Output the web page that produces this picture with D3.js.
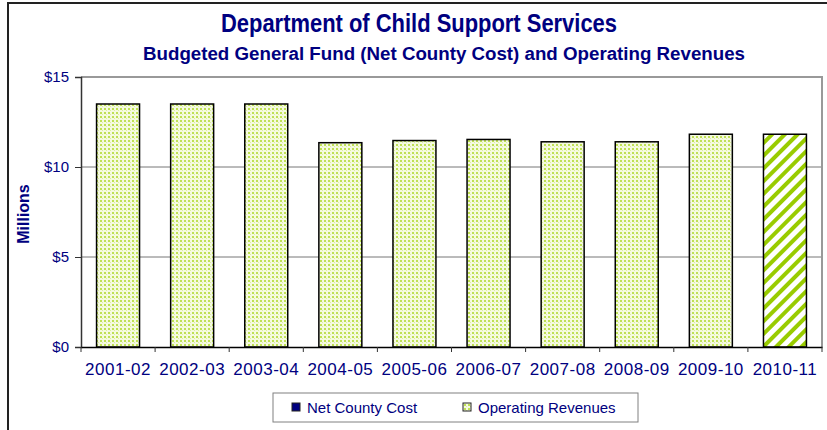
<!DOCTYPE html>
<html>
<head>
<meta charset="utf-8">
<script src="https://cdn.jsdelivr.net/npm/d3@7"></script>
<style>
  body { margin: 0; background: #fff; }
  text { font-family: "Liberation Sans", Arial, sans-serif; }
</style>
</head>
<body>
<svg id="chart" width="827" height="430"></svg>
<script>
// data (millions of dollars)
var years = ["2001-02","2002-03","2003-04","2004-05","2005-06","2006-07","2007-08","2008-09","2009-10","2010-11"];
var netCountyCost = [0, 0, 0, 0, 0, 0, 0, 0, 0, 0];
var operatingRevenues = [13.5, 13.5, 13.5, 11.35, 11.47, 11.53, 11.4, 11.4, 11.82, 11.82];
var yTicks = [0, 5, 10, 15];
var seriesNames = ["Net County Cost", "Operating Revenues"];
var budgetYear = "2010-11";

var navy = "#000080";
var svg = d3.select("#chart");

// patterns
var defs = svg.append("defs");
var dots = defs.append("pattern").attr("id", "dots")
  .attr("patternUnits", "userSpaceOnUse").attr("width", 4).attr("height", 4);
dots.append("rect").attr("width", 4).attr("height", 4).attr("fill", "#f5fae0");
dots.append("rect").attr("x", 0).attr("y", 0).attr("width", 2).attr("height", 2).attr("fill", "#bfe055");
dots.append("rect").attr("x", 2).attr("y", 2).attr("width", 1).attr("height", 1).attr("fill", "#dcefa0");

var stripes = defs.append("pattern").attr("id", "stripes")
  .attr("patternUnits", "userSpaceOnUse").attr("width", 9).attr("height", 9)
  .attr("patternTransform", "rotate(45)");
stripes.append("rect").attr("width", 9).attr("height", 9).attr("fill", "#fff");
stripes.append("rect").attr("width", 4).attr("height", 9).attr("fill", "#99cc00");

// outer frame (left and top visible)
svg.append("path").attr("d", "M8,440V3H827").attr("fill", "none")
  .attr("stroke", "#222").attr("stroke-width", 2);

var plotLeft = 81, plotRight = 822, plotTop = 77, plotBottom = 347;

var x = d3.scaleBand().domain(years).range([plotLeft, plotRight])
  .paddingInner(0.42).paddingOuter(0.21);
var y = d3.scaleLinear().domain([0, 15]).range([plotBottom, plotTop]);

// titles
svg.append("text").attr("x", 419).attr("y", 32).attr("text-anchor", "middle")
  .attr("font-size", 26).attr("font-weight", "bold").attr("fill", navy)
  .attr("textLength", 396).attr("lengthAdjust", "spacingAndGlyphs")
  .text("Department of Child Support Services");
svg.append("text").attr("x", 444).attr("y", 60).attr("text-anchor", "middle")
  .attr("font-size", 18).attr("font-weight", "bold").attr("fill", navy)
  .attr("textLength", 602).attr("lengthAdjust", "spacingAndGlyphs")
  .text("Budgeted General Fund (Net County Cost) and Operating Revenues");

// gridlines
svg.append("g").selectAll("line").data(yTicks.filter(function(d) { return d > 0 && d < 15; }))
  .enter().append("line")
  .attr("x1", plotLeft).attr("x2", plotRight)
  .attr("y1", function(d) { return y(d); }).attr("y2", function(d) { return y(d); })
  .attr("stroke", "#777").attr("stroke-width", 1);

// plot area border top/right
svg.append("path").attr("d", "M" + plotLeft + "," + y(15) + "H" + plotRight + "V" + plotBottom)
  .attr("fill", "none").attr("stroke", "#999").attr("stroke-width", 2);

// stacked bars
var stack = d3.stack().keys(["net", "rev"]);
var rows = years.map(function(d, i) { return {year: d, net: netCountyCost[i], rev: operatingRevenues[i]}; });
var layers = stack(rows);

svg.append("g").selectAll("g").data(layers).enter().append("g")
  .selectAll("rect")
  .data(function(l) { return l.map(function(p) { return {key: l.key, y0: p[0], y1: p[1], year: p.data.year}; }).filter(function(p) { return p.y1 > p.y0; }); })
  .enter().append("rect")
  .attr("x", function(d) { return x(d.year); })
  .attr("width", x.bandwidth())
  .attr("y", function(d) { return y(d.y1); })
  .attr("height", function(d) { return y(d.y0) - y(d.y1); })
  .attr("fill", function(d) {
    if (d.key == "net") return navy;
    return d.year == budgetYear ? "url(#stripes)" : "url(#dots)";
  })
  .attr("stroke", "#000").attr("stroke-width", 1.5);

// y axis
var yAxis = d3.axisLeft(y).tickValues(yTicks).tickFormat(function(d) { return "$" + d; })
  .tickSize(6).tickPadding(6);
var ya = svg.append("g").attr("transform", "translate(" + plotLeft + ",0)").call(yAxis);
ya.select(".domain").attr("stroke", "#333").attr("stroke-width", 1.5);
ya.selectAll(".tick line").attr("stroke", "#333");
ya.selectAll("text").attr("font-size", 15).attr("fill", navy)
  .attr("font-family", "Liberation Sans, Arial, sans-serif");

// x axis
var xAxis = d3.axisBottom(x).tickSize(0).tickPadding(16);
var xa = svg.append("g").attr("transform", "translate(0," + plotBottom + ")").call(xAxis);
xa.select(".domain").attr("stroke", "#000").attr("stroke-width", 1.5);
xa.selectAll("text").attr("font-size", 17).attr("fill", navy).attr("letter-spacing", 0.5)
  .attr("font-family", "Liberation Sans, Arial, sans-serif");
// boundary ticks between categories
var bounds = years.map(function(d) { return x(d) - x.step() * x.paddingInner() / 2; }).concat([plotRight]);
xa.selectAll(".bound").data(bounds).enter().append("line").attr("class", "bound")
  .attr("x1", function(d) { return d; }).attr("x2", function(d) { return d; })
  .attr("y1", 0).attr("y2", 5).attr("stroke", "#333");

// y title
svg.append("text").attr("transform", "translate(29,214) rotate(-90)")
  .attr("text-anchor", "middle").attr("font-size", 16).attr("font-weight", "bold")
  .attr("fill", navy).text("Millions");

// legend
var lg = svg.append("g");
lg.append("rect").attr("x", 273).attr("y", 393).attr("width", 365).attr("height", 29)
  .attr("fill", "#fff").attr("stroke", "#808080");
var legendX = [292, 463];
var legendFill = [navy, "url(#dots)"];
seriesNames.forEach(function(name, i) {
  lg.append("rect").attr("x", legendX[i]).attr("y", 403).attr("width", 8).attr("height", 8)
    .attr("fill", legendFill[i]).attr("stroke", "#222").attr("stroke-width", 1);
  lg.append("text").attr("x", legendX[i] + 15).attr("y", 413).attr("font-size", 15)
    .attr("fill", navy).text(name);
});
</script>
</body>
</html>
